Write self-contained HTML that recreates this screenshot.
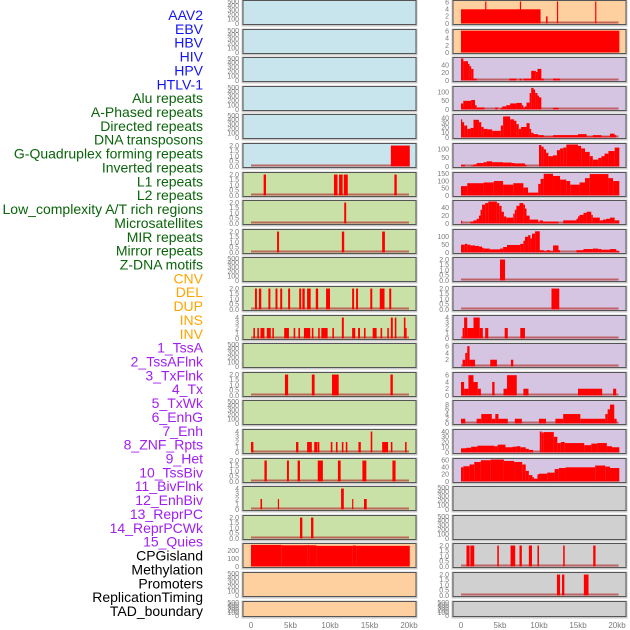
<!DOCTYPE html>
<html><head><meta charset="utf-8"><style>
body{margin:0;background:#fff;}
svg{display:block;font-family:"Liberation Sans",sans-serif;}
</style></head><body>
<svg id="chart" width="630" height="630" viewBox="0 0 630 630" xmlns="http://www.w3.org/2000/svg"></svg>
<script>
const trackLabels=["AAV2","EBV","HBV","HIV","HPV","HTLV-1","Alu repeats","A-Phased repeats","Directed repeats","DNA transposons","G-Quadruplex forming repeats","Inverted repeats","L1 repeats","L2 repeats","Low_complexity A/T rich regions","Microsatellites","MIR repeats","Mirror repeats","Z-DNA motifs","CNV","DEL","DUP","INS","INV","1_TssA","2_TssAFlnk","3_TxFlnk","4_Tx","5_TxWk","6_EnhG","7_Enh","8_ZNF_Rpts","9_Het","10_TssBiv","11_BivFlnk","12_EnhBiv","13_ReprPC","14_ReprPCWk","15_Quies","CPGisland","Methylation","Promoters","ReplicationTiming","TAD_boundary"];
const labelGroupColors=["#1515f0","#0a640a","#ffa500","#a020f0","#000000"];
const labelGroupSizes=[6,13,5,15,5];
const xTickValues=[0,5000,10000,15000,20000];
const xTickLabels=["0","5kb","10kb","15kb","20kb"];
const bgLeft=["b","b","b","b","b","b","g","g","g","g","g","g","g","g","g","g","g","g","g","o","o","o"];
const bgRight=["o","o","p","p","p","p","p","p","p","p","p","p","p","p","p","p","p","y","y","y","y","y"];
const ymaxLeft=[500,500,500,500,500,2.1,2.1,2.1,2.1,500,2.1,4.2,500,2.1,500,4.2,2.1,4.2,2.1,280,500,500];
const ymaxRight=[6.2,6.25,57,127,46,128,152,56,140,2.1,2.1,4.2,6.5,6.5,9.3,42,62,500,500,2.1,2.1,500];
const T500=[0,100,200,300,400,500],T2=[0,0.5,1,1.5,2],T4=[0,1,2,3,4];
const ticksLeft=[T500,T500,T500,T500,T500,T2,T2,T2,T2,T500,T2,T4,T500,T2,T500,T4,T2,T4,T2,[0,100,200],T500,T500];
const ticksRight=[[0,2,4,6],[0,2,4,6],[0,20,40],[0,50,100],[0,10,20,30,40],[0,50,100],[0,50,100,150],[0,20,40],[0,50,100],T2,T2,T4,[2,4,6],[0,2,4,6],[0,2,4,6,8],[0,10,20,30,40],[0,20,40,60],T500,T500,T2,T2,T500];
const segsLeft=[[],[],[],[],[],
[[17.7,20.1,2]],
[[1.6,1.9,2],[10.5,10.95,2],[11.15,11.6,2],[11.75,12.25,2],[18.15,18.45,2]],
[[11.8,12.05,2]],
[[3.3,3.55,2],[11.5,11.8,2],[16.6,16.95,2]],
[],
[[0.5,0.75,2],[1.0,1.3,2],[2.2,2.45,2],[3.1,3.35,2],[3.7,3.95,2],[4.7,4.95,2],[6.1,6.35,2],[6.5,6.8,2],[7.1,7.55,2],[8.2,8.5,2],[9.5,10.0,2],[12.8,13.05,2],[13.3,13.55,2],[15.1,15.35,2],[16.3,16.9,2],[17.5,17.75,2]],
[[0.3,0.5,2],[0.8,1.0,2],[1.2,1.7,2],[2.0,2.5,2],[2.7,2.9,2],[4.2,4.8,2],[5.4,5.6,2],[6.0,6.2,2],[6.7,7.5,2],[7.7,7.9,2],[8.5,8.7,2],[8.9,9.7,2],[10.3,10.5,2],[11.5,11.75,4],[12.8,13.2,2],[13.55,13.8,2],[14.3,14.5,2],[15.4,15.9,2],[16.4,16.6,2],[17.25,17.45,2],[17.7,17.95,4],[18.2,18.4,4],[19.35,19.55,4],[19.55,19.7,2]],
[],
[[4.3,4.7,2],[7.7,8.05,2],[10.25,11.1,2],[17.65,17.95,2]],
[],
[[0.0,0.3,2],[5.7,6.0,2],[7.1,7.7,2],[8.0,8.4,2],[8.45,8.65,2],[10.1,10.3,2],[10.75,10.95,2],[11.5,11.7,2],[12.0,12.2,2],[13.6,13.9,2],[15.15,15.35,4],[16.6,17.35,2],[17.7,17.9,2],[19.5,19.7,2]],
[[1.7,2.0,2],[4.55,4.8,2],[5.9,6.2,2],[8.45,9.1,2],[11.0,11.35,2],[14.1,14.6,2],[17.9,18.3,2]],
[[1.2,1.4,2],[3.4,3.55,2],[11.4,11.75,4],[12.8,12.95,2],[14.3,14.65,2]],
[[6.2,6.5,2],[7.6,7.9,2]],
[[0,3.9,275],[3.9,7.1,270],[7.1,7.4,272],[7.4,8.3,270],[8.3,12.9,263],[12.9,13.3,267],[13.3,20.1,263]],
[],[]];
const segsRight=[
[[0,10.2,4],[3.1,3.25,6.2],[7.55,7.7,6.2],[10.9,11.1,2],[12.3,12.45,6.2],[17.2,17.35,6.2]],
[[0,20.3,6.2]],
[[0,0.3,57],[0.3,0.9,50],[0.9,1.1,43],[1.1,1.3,37],[1.3,1.6,30],[1.6,2.0,5],[6.2,7.1,5],[7.5,7.8,5],[8.0,9.0,5],[9.0,9.6,25],[9.6,9.8,22],[9.8,10.3,30],[10.3,10.6,5],[11.8,12.7,5]],
[[0,0.3,35],[0.3,1.3,50],[1.3,1.8,55],[1.8,2.0,25],[2.0,3.0,12],[4.4,4.7,12],[5.1,5.3,10],[5.3,5.8,18],[5.8,6.3,25],[6.3,7.1,35],[7.1,7.8,38],[7.8,8.0,25],[8.0,8.2,12],[8.2,8.4,18],[8.4,8.8,40],[8.8,9.0,95],[9.0,9.3,125],[9.3,9.5,115],[9.5,9.8,95],[9.8,10.0,80],[10.0,10.3,70],[11.8,12.5,10]],
[[0,0.1,38],[0.1,0.4,32],[0.4,0.8,25],[0.8,1.2,18],[1.2,1.6,20],[1.6,2.3,37],[2.3,2.6,32],[2.6,2.9,22],[2.9,3.4,18],[3.4,4.0,17],[4.0,5.1,14],[5.1,5.4,25],[5.4,6.3,44],[6.3,6.8,38],[6.8,7.1,35],[7.1,7.4,28],[7.4,7.7,18],[7.7,8.4,22],[8.4,8.8,30],[8.8,9.0,18],[9.0,9.3,10],[9.3,9.9,7],[9.9,10.6,5],[10.6,11.8,2],[11.8,15.0,5],[15.0,16.1,7],[16.1,16.9,2],[16.9,18.0,5],[18.0,19.1,2],[19.1,19.7,8],[19.7,19.9,5]],
[[0,0.5,10],[1.3,1.6,5],[1.6,2.0,12],[2.0,2.9,20],[2.9,3.3,25],[3.3,4.0,30],[4.0,5.4,25],[5.4,6.5,23],[6.5,6.9,20],[6.9,8.2,18],[8.2,8.4,10],[10.0,10.3,125],[10.3,10.6,115],[10.6,10.9,100],[10.9,11.2,80],[11.2,11.8,60],[11.8,12.3,65],[12.3,12.7,95],[12.7,13.1,105],[13.1,13.5,110],[13.5,15.0,128],[15.0,15.4,120],[15.4,15.9,105],[15.9,16.5,85],[16.5,16.9,60],[16.9,17.6,40],[17.6,18.0,50],[18.0,18.4,60],[18.4,18.9,75],[18.9,19.7,90],[19.7,20.3,110]],
[[0,0.8,65],[0.8,2.9,85],[2.9,4.2,90],[4.2,5.4,100],[5.4,6.7,75],[6.7,8.0,85],[8.0,8.6,55],[8.6,9.9,20],[9.9,10.2,80],[10.2,10.6,115],[10.6,11.8,150],[11.8,12.7,135],[12.7,13.5,110],[13.5,14.0,100],[14.0,15.2,75],[15.2,15.9,90],[15.9,16.5,120],[16.5,18.9,148],[18.9,19.5,120],[19.5,20.3,100]],
[[0,0.1,7],[1.2,1.6,5],[1.6,2.0,8],[2.0,2.3,12],[2.3,2.5,20],[2.5,2.7,35],[2.7,3.1,48],[3.1,3.5,52],[3.5,4.6,56],[4.6,4.9,52],[4.9,5.2,45],[5.2,5.5,30],[5.5,5.8,18],[5.8,6.7,15],[6.7,6.9,25],[6.9,7.1,35],[7.1,7.5,45],[7.5,8.0,52],[8.0,8.2,48],[8.2,8.4,38],[8.4,8.8,20],[8.8,9.9,10],[9.9,10.1,5],[10.1,10.5,8],[10.5,12.5,5],[13.1,14.8,8],[14.8,15.0,12],[15.0,15.2,18],[15.2,15.7,22],[15.7,16.1,27],[16.1,16.7,30],[16.7,16.9,22],[16.9,17.8,15],[17.8,18.2,8],[18.2,18.6,10],[18.6,19.1,12],[19.1,19.7,15],[19.7,20.3,8]],
[[0,0.5,50],[0.5,0.8,55],[0.8,1.2,50],[1.2,1.8,45],[1.8,2.3,42],[2.3,2.7,38],[2.7,2.9,30],[2.9,3.7,25],[3.7,5.0,20],[5.0,5.4,25],[5.4,5.9,35],[5.9,7.6,48],[7.6,8.0,55],[8.0,8.2,75],[8.2,8.6,100],[8.6,8.9,110],[8.9,9.1,90],[9.1,9.5,120],[9.5,10.1,135],[10.1,10.6,15],[10.6,11.0,8],[11.0,11.4,15],[11.4,11.8,8],[11.8,12.5,45],[12.5,12.7,15],[14.8,15.7,15],[15.7,16.9,22],[16.9,17.6,25],[17.6,18.0,22],[18.0,19.1,18],[19.1,19.9,22],[19.9,20.3,10]],
[[5.0,5.65,2]],
[[11.6,12.6,2]],
[[0.2,0.4,2],[0.4,0.8,4],[0.8,1.6,2],[1.6,2.4,4],[2.4,2.8,2],[3.1,3.5,2],[5.6,6.0,2],[7.6,8.2,2]],
[[0.2,0.55,2],[0.55,0.8,4],[0.8,1.1,6],[1.1,1.8,2],[3.75,4.6,2],[6.4,6.7,2]],
[[0,0.4,4],[0.4,0.95,2],[0.95,1.6,6],[1.6,2.15,4],[2.15,2.55,2],[4.0,4.3,4],[5.45,5.9,2],[5.9,7.15,6],[8.0,8.65,2],[15.0,18.1,2],[19.5,19.9,2]],
[[0,0.55,2],[2.0,2.6,2],[2.6,3.95,4],[3.95,4.4,2],[4.4,4.8,4],[4.8,6.0,2],[6.9,7.8,2],[10.0,10.9,2],[12.1,13.1,2],[13.1,15.3,4],[15.3,18.5,2],[18.5,18.8,4],[18.8,19.1,6],[19.1,19.65,8],[19.65,19.95,2]],
[[0,0.64,8],[0.64,1.3,9],[1.3,2.1,11],[2.1,4.25,13],[4.25,4.7,12],[4.7,5.7,15],[5.7,6.6,10],[6.6,7.1,11],[7.1,7.6,12],[7.6,8.3,10],[8.3,8.7,7],[8.7,9.25,5],[10.1,10.35,40],[10.35,10.6,38],[10.6,11.9,39],[11.9,12.35,30],[12.35,12.8,18],[12.8,13.3,20],[13.3,15.8,18],[15.8,16.7,14],[16.7,17.45,17],[17.45,18.7,18],[18.7,19.35,12],[19.35,20.3,10]],
[[0,0.3,40],[0.3,1.1,43],[1.1,1.7,48],[1.7,2.55,55],[2.55,3.8,60],[3.8,5.5,62],[5.5,6.8,58],[6.8,7.85,55],[7.85,8.3,48],[8.3,8.7,30],[8.7,9.15,18],[9.15,9.35,12],[9.35,9.8,8],[9.8,10.0,20],[10.0,11.05,22],[11.05,12.0,25],[12.0,12.55,35],[12.55,13.4,38],[13.4,17.2,40],[17.2,18.5,45],[18.5,19.1,42],[19.1,20.3,38]],
[],[],
[[0.7,1.1,2],[1.2,1.7,2],[4.65,4.85,2],[6.35,6.95,2],[7.5,7.8,2],[8.7,9.1,2],[9.8,10.0,2],[13.1,13.3,2],[16.95,17.25,2]],
[[12.3,12.7,2],[12.95,13.25,2],[15.75,16.35,2]],
[]];

const NS="http://www.w3.org/2000/svg";
const svg=document.getElementById('chart');
function mk(tag,attrs,parent){const e=document.createElementNS(NS,tag);for(const k in attrs)e.setAttribute(k,attrs[k]);(parent||svg).appendChild(e);return e;}
const bgColor={b:"#c8e4ec",g:"#c9e1a6",o:"#ffd09f",p:"#d5c5e3",y:"#d0d0d0"};
const cols=[{x0:243,k0:251,kscale:7.9,bg:bgLeft,ymax:ymaxLeft,ticks:ticksLeft,segs:segsLeft,name:'left'},
            {x0:453,k0:461,kscale:7.8,bg:bgRight,ymax:ymaxRight,ticks:ticksRight,segs:segsRight,name:'right'}];
const PW=173;
function fmtTick(v,ym){return ym<5&&ym>2.05&&ym<3?v.toFixed(1):(ym<=2.1?v.toFixed(1):String(v));}

// labels
let li=0;
labelGroupSizes.forEach((n,g)=>{for(let j=0;j<n;j++){const t=mk('text',{x:203,y:(15+li*13.86+5).toFixed(1),'text-anchor':'end','font-size':'14',fill:labelGroupColors[g]});t.textContent=trackLabels[li];

li++;}});

for(let r=0;r<22;r++){
  const y0=Math.round(r*28.6);const h=(r===21)?16:25;
  cols.forEach(c=>{
    const g=mk('g',{});
    
    
    mk('rect',{x:c.x0-0.5,y:y0+0.5,width:PW+1,height:h,fill:'none',stroke:'#c8c8c8','stroke-width':2},g);
    mk('rect',{x:c.x0,y:y0+0.5,width:PW,height:h-1,fill:bgColor[c.bg[r]],stroke:'#555','stroke-width':1},g);
    const ym=c.ymax[r];const yb=y0+h-1.5,yt=y0+1.5;
    const ys=v=>yb-(v/ym)*(yb-yt);
    const xs=kb=>c.k0+kb*c.kscale;
    const segs=c.segs[r];
    if(segs.length){const bl=mk('rect',{x:xs(0),y:yb-2,width:xs(c.name==='left'?20:20.2)-xs(0),height:2,fill:'#b84848',opacity:0.8},g);
      }
    segs.forEach(s=>{const x1=xs(s[0]),x2=xs(s[1]);const b=mk('rect',{x:x1.toFixed(2),y:ys(s[2]).toFixed(2),width:Math.max(1.2,x2-x1).toFixed(2),height:(yb-ys(s[2])).toFixed(2),fill:'#ff0000'},g);
      });
    c.ticks[r].forEach(v=>{const tt=mk('text',{x:c.x0-4,y:(ys(v)+2.3).toFixed(1),'text-anchor':'end','font-size':'7',fill:'#7a7a7a'},g);
      tt.textContent=(ym<=2.1)?v.toFixed(1):String(v);
      });
  });
}
// x axes
cols.forEach(c=>{xTickValues.forEach((v,i)=>{const t=mk('text',{x:c.k0+(v/1000)*c.kscale,y:628,'text-anchor':'middle','font-size':'8',fill:'#7a7a7a'});t.textContent=xTickLabels[i];
});});
</script>
</body></html>
